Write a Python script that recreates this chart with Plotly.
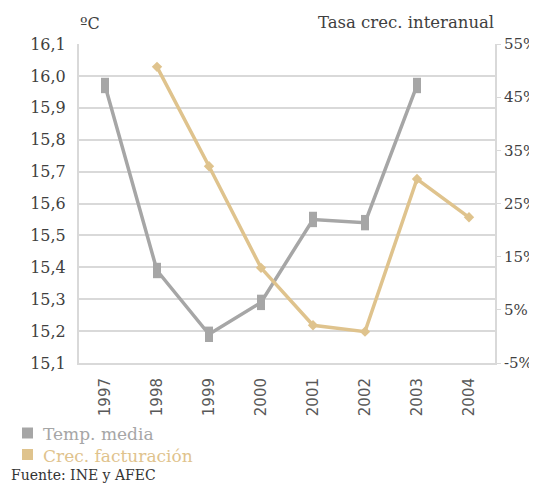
import plotly.graph_objects as go

years = ["1997", "1998", "1999", "2000", "2001", "2002", "2003", "2004"]
temp_media = [15.97, 15.39, 15.19, 15.29, 15.55, 15.54, 15.97, None]
crec_fact = [None, 50.7, 32.0, 12.9, 2.1, 0.9, 29.6, 22.4]

left_ticks = [15.1, 15.2, 15.3, 15.4, 15.5, 15.6, 15.7, 15.8, 15.9, 16.0, 16.1]
right_ticks = [-5, 5, 15, 25, 35, 45, 55]
right_labels = ["-5%", "5%", "15%", "25%", "35%", "45%", "55%"]

GRAY = "#a6a6a6"
TAN = "#dfc38d"
TXT = "#404040"
FONT = "DejaVu Serif"
SANS = "DejaVu Sans"

fig = go.Figure()
fig.add_trace(go.Scatter(
    x=years, y=temp_media, mode="lines+markers", showlegend=False, name="Temp. media",
    line=dict(color=GRAY, width=3.5),
    marker=dict(symbol="line-ns", size=11, color=GRAY, line=dict(width=8, color=GRAY)),
    yaxis="y", connectgaps=False))
fig.add_trace(go.Scatter(
    x=years, y=crec_fact, mode="lines+markers", showlegend=False, name="Crec. facturación",
    line=dict(color=TAN, width=3.5), marker=dict(symbol="diamond", size=8, color=TAN),
    yaxis="y2", connectgaps=False))

# page body has an 8px margin; figure is sized/offset to compensate
W, H = 529, 485
L, R, T, B = 71, 42, 36, 130
PW, PH = W - L - R, H - T - B


def px_x(fx):
    return (fx - L) / PW


def px_y(fy):
    return (H - B - fy) / PH


legend_items = [("Temp. media", GRAY, 425), ("Crec. facturación", TAN, 446.5)]
shapes = []
annotations = []
for label, col, cy in legend_items:
    shapes.append(dict(type="rect", xref="paper", yref="paper",
                       x0=px_x(14), x1=px_x(25), y0=px_y(cy + 5.5), y1=px_y(cy - 5.5),
                       fillcolor=col, line=dict(width=0)))
    annotations.append(dict(text=label, xref="paper", yref="paper", x=px_x(33), y=px_y(cy + 1),
                            xanchor="left", yanchor="middle", showarrow=False,
                            font=dict(size=17, color=col, family=FONT)))

annotations += [
    dict(text="ºC", xref="paper", yref="paper", x=px_x(70), y=1.0, xanchor="left", yanchor="bottom",
         yshift=9, showarrow=False, font=dict(size=16, color=TXT, family=FONT)),
    dict(text="Tasa crec. interanual", xref="paper", yref="paper", x=px_x(488), y=1.0, xanchor="right",
         yanchor="bottom", yshift=10, showarrow=False, font=dict(size=16.5, color=TXT, family=FONT)),
    dict(text="Fuente: INE y AFEC", xref="paper", yref="paper", x=px_x(1), y=px_y(467), xanchor="left",
         yanchor="middle", showarrow=False, font=dict(size=14, color="#333333", family=FONT)),
]

fig.update_layout(
    width=W, height=H,
    margin=dict(l=L, r=R, t=T, b=B, autoexpand=False),
    paper_bgcolor="white", plot_bgcolor="white",
    separators=",.",
    showlegend=False,
    font=dict(family=FONT, color=TXT, size=16),
    xaxis=dict(type="category", range=[-0.5, 7.5], tickangle=-90, showgrid=False,
               showline=True, linecolor="#d9d9d9", linewidth=2, ticks="",
               ticklabelstandoff=7,
               tickfont=dict(size=15, color="#595959", family=SANS), automargin=False),
    yaxis=dict(range=[15.1, 16.1], tickvals=left_ticks, tickformat=".1f",
               showgrid=True, gridcolor="#d9d9d9", gridwidth=2,
               showline=True, linecolor="#d9d9d9", linewidth=2, ticks="",
               ticklabelstandoff=8,
               zeroline=False, tickfont=dict(size=16, color=TXT, family=FONT), automargin=False),
    yaxis2=dict(range=[-5, 55], tickvals=right_ticks, ticktext=right_labels, overlaying="y", side="right",
                showgrid=False, showline=True, linecolor="#d9d9d9", linewidth=2,
                ticks="outside", ticklen=4, tickcolor="#d9d9d9", zeroline=False,
                ticklabelstandoff=0,
                tickfont=dict(size=15, color=TXT, family=FONT), automargin=False),
    shapes=shapes,
    annotations=annotations,
)

fig.write_html("out.html")
